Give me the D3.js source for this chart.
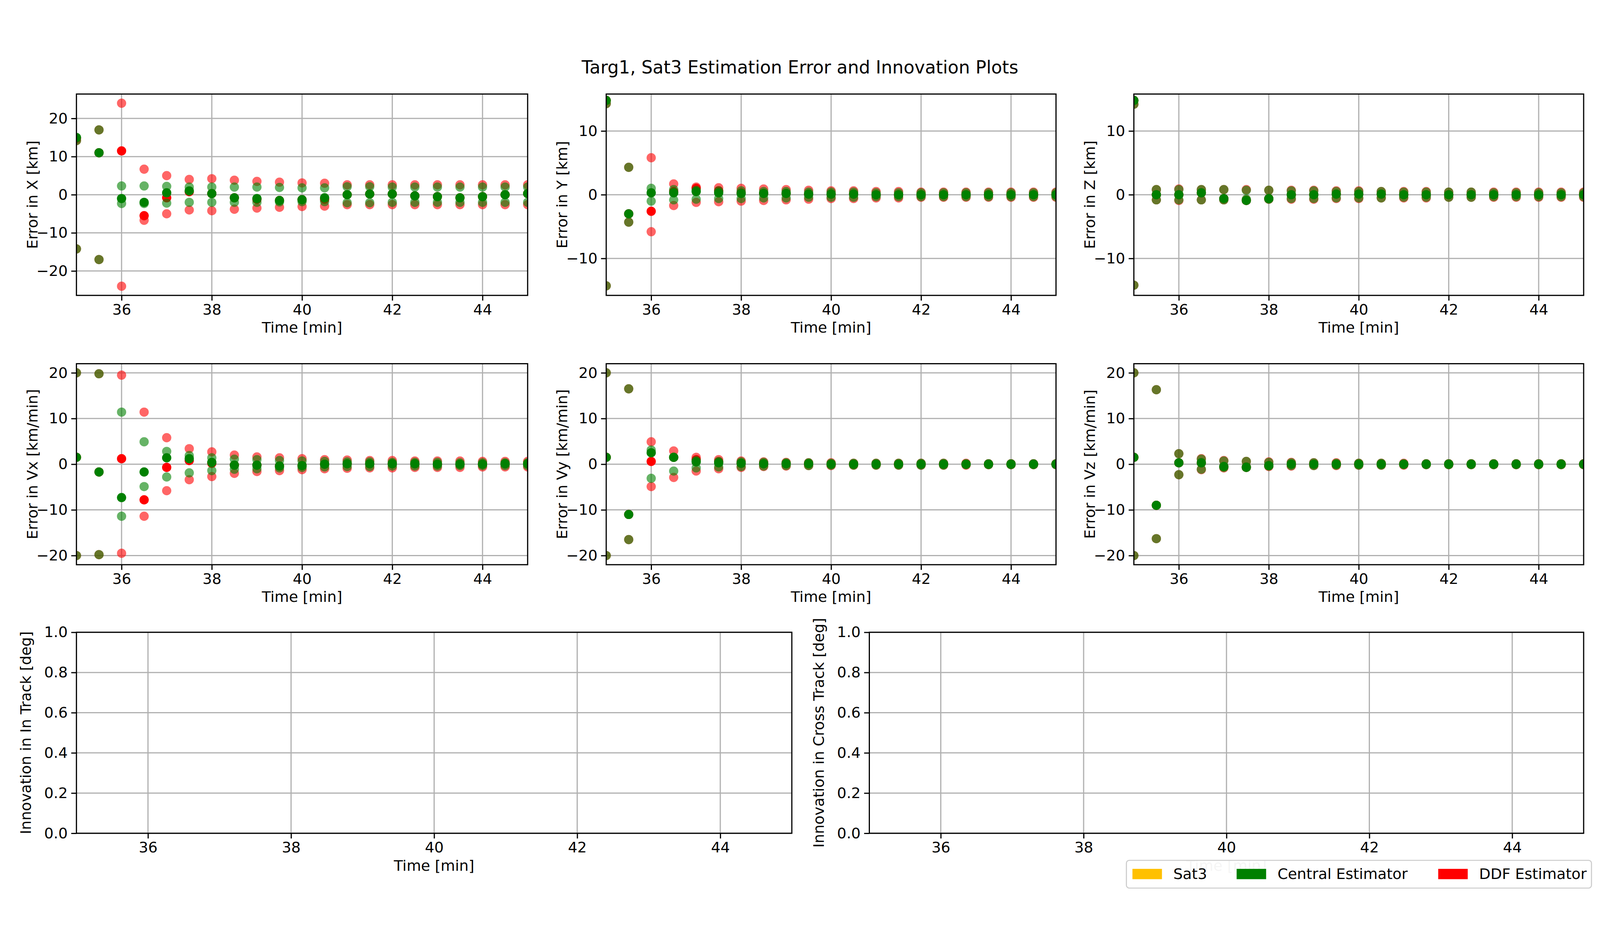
<!DOCTYPE html><html><head><meta charset="utf-8"><script src="https://cdn.jsdelivr.net/npm/d3@7"></script>
<style>html,body{margin:0;padding:0;background:#fff;overflow:hidden;width:100vw;height:100vh}svg{display:block}text{font-family:"DejaVu Sans";}</style></head><body><svg id="c" viewBox="0 0 4500 2400" preserveAspectRatio="xMidYMid meet" style="width:100vw;height:100vh"></svg><script>
const times=[35,35.5,36,36.5,37,37.5,38,38.5,39,39.5,40,40.5,41,41.5,42,42.5,43,43.5,44,44.5,45];
const xTicks=[36,38,40,42,44];
// per panel: central error, central bound, ddf error, ddf bound
const xC=[15,11,-1,-2,0.5,1,0.3,-0.8,-1,-1.5,-1.3,-0.8,0,0.2,0.2,-0.3,-0.5,-0.8,-0.5,0,0.3];
const xCB=[14.2,17,2.3,2.3,2.2,2,2,2,2,1.9,1.8,1.8,2.1,2.1,2,2,2,2,2,2,2];
const xD=[14.8,11,11.5,-5.5,-0.8,0.8,0.3,-0.8,-1.2,-1.5,-1.3,-1.2,0,0.2,0.2,-0.3,-0.5,-0.8,-0.5,0,0.3];
const xDB=[14.2,17,24,6.7,5,4,4.2,3.8,3.5,3.3,3.1,3,2.6,2.6,2.6,2.6,2.6,2.6,2.6,2.6,2.6];
const yC=[14.8,-3,0.3,0.3,0.5,0.3,0.2,0.2,0.2,0.1,0.1,0.1,0,0,0,0,0,0,0,0,0];
const yCB=[14.3,4.3,1,0.8,0.7,0.6,0.6,0.5,0.5,0.4,0.4,0.4,0.3,0.3,0.3,0.3,0.3,0.3,0.3,0.3,0.3];
const yD=[14.8,-3,-2.6,0.5,1,0.6,0.3,0.2,0.2,0.1,0.1,0.1,0,0,0,0,0,0,0,0,0];
const yDB=[14.3,4.3,5.8,1.7,1.2,1.1,1,0.9,0.8,0.7,0.6,0.6,0.5,0.5,0.4,0.4,0.4,0.4,0.4,0.4,0.4];
const zC=[14.8,0,0,0.3,-0.6,-0.9,-0.6,0,0,0.1,0.1,0.1,0,0,0,0,0,0,0,0,0];
const zCB=[14.2,0.8,0.8,0.8,0.8,0.7,0.7,0.6,0.6,0.5,0.5,0.5,0.4,0.4,0.4,0.4,0.3,0.3,0.3,0.3,0.3];
const zD=[14.8,0,0,0.3,-0.6,-0.9,-0.6,0,0,0.1,0.1,0.1,0,0,0,0,0,0,0,0,0];
const zDB=[14.2,0.8,0.9,0.8,0.8,0.8,0.7,0.7,0.7,0.6,0.6,0.5,0.5,0.5,0.4,0.4,0.4,0.4,0.4,0.4,0.4];
const vxC=[1.5,-1.7,-7.3,-1.7,1.4,1.2,0.4,-0.2,-0.2,-0.4,-0.3,0,0.1,0.1,0.1,0.1,0,0,0,0.1,0.1];
const vxCB=[20,19.8,11.4,4.9,2.8,1.9,1.4,1.1,1,0.8,0.7,0.6,0.5,0.5,0.4,0.4,0.4,0.3,0.3,0.3,0.3];
const vxD=[1.5,-1.7,1.2,-7.8,-0.7,0.8,0.2,-0.2,-0.2,-0.4,-0.3,0,0.1,0.1,0.1,0.1,0,0,0,0.1,0.1];
const vxDB=[20,19.8,19.5,11.4,5.8,3.4,2.7,2,1.6,1.4,1.2,1,0.9,0.8,0.8,0.7,0.7,0.7,0.6,0.6,0.6];
const vyC=[1.5,-11,2.5,1.5,0.5,0.3,0.2,0.1,0.1,0.1,0,0,0,0,0,0,0,0,0,0,0];
const vyCB=[20,16.5,3.1,1.5,0.8,0.6,0.5,0.4,0.3,0.3,0.2,0.2,0.2,0.2,0.2,0.2,0.1,0.1,0.1,0.1,0.1];
const vyD=[1.5,-11,0.6,1.5,1,0.5,0.2,0.1,0.1,0.1,0,0,0,0,0,0,0,0,0,0,0];
const vyDB=[20,16.5,4.9,2.9,1.5,1,0.7,0.5,0.4,0.3,0.3,0.2,0.2,0.2,0.2,0.2,0.2,0.1,0.1,0.1,0.1];
const vzC=[1.5,-9,0.3,0.3,-0.5,-0.7,-0.3,0,0,0,0,0,0,0,0,0,0,0,0,0,0];
const vzCB=[20,16.3,2.3,1.1,0.7,0.6,0.4,0.3,0.3,0.2,0.2,0.2,0.1,0.1,0.1,0.1,0.1,0.1,0.1,0.1,0.1];
const vzD=[1.5,-9,0.3,0.3,-0.5,-0.7,-0.3,0,0,0,0,0,0,0,0,0,0,0,0,0,0];
const vzDB=[20,16.3,2.3,1.2,0.8,0.6,0.5,0.4,0.3,0.3,0.2,0.2,0.2,0.1,0.1,0.1,0.1,0.1,0.1,0.1,0.1];
const panels=[
 {lab:"Error in X [km]",c:xC,cb:xCB,d:xD,db:xDB,dom:[-26.4,26.4],ticks:[-20,-10,0,10,20],box:[215,146,1484,712]},
 {lab:"Error in Y [km]",c:yC,cb:yCB,d:yD,db:yDB,dom:[-15.8,15.8],ticks:[-10,0,10],box:[1705,146,2970,712]},
 {lab:"Error in Z [km]",c:zC,cb:zCB,d:zD,db:zDB,dom:[-15.8,15.8],ticks:[-10,0,10],box:[3189,146,4454,712]},
 {lab:"Error in Vx [km/min]",c:vxC,cb:vxCB,d:vxD,db:vxDB,dom:[-22,22],ticks:[-20,-10,0,10,20],box:[215,904,1484,1469]},
 {lab:"Error in Vy [km/min]",c:vyC,cb:vyCB,d:vyD,db:vyDB,dom:[-22,22],ticks:[-20,-10,0,10,20],box:[1705,904,2970,1469]},
 {lab:"Error in Vz [km/min]",c:vzC,cb:vzCB,d:vzD,db:vzDB,dom:[-22,22],ticks:[-20,-10,0,10,20],box:[3189,904,4454,1469]},
 {lab:"Innovation in In Track [deg]",dom:[0,1],ticks:[0,0.2,0.4,0.6,0.8,1.0],box:[215,1659,2227,2224],fmt:d3.format(".1f")},
 {lab:"Innovation in Cross Track [deg]",dom:[0,1],ticks:[0,0.2,0.4,0.6,0.8,1.0],box:[2445,1659,4454,2224],fmt:d3.format(".1f"),noX:true}
];
const svg=d3.select("#c");const FS=41.7;
svg.append("text").attr("x",2250).attr("y",88).attr("text-anchor","middle").attr("font-size",50).text("Targ1, Sat3 Estimation Error and Innovation Plots");
panels.forEach(p=>{
 const [x0,y0,x1,y1]=p.box;
 const x=d3.scaleLinear().domain([35,45]).range([x0,x1]);
 const y=d3.scaleLinear().domain(p.dom).range([y1,y0]);
 const g=svg.append("g");
 const clip="cl"+x0+"_"+y0;
 g.append("clipPath").attr("id",clip).append("rect").attr("x",x0).attr("y",y0).attr("width",x1-x0).attr("height",y1-y0);
 g.selectAll(".gx").data(xTicks).join("line").attr("x1",d=>x(d)).attr("x2",d=>x(d)).attr("y1",y0).attr("y2",y1).attr("stroke","#b0b0b0").attr("stroke-width",3.3);
 g.selectAll(".gy").data(p.ticks).join("line").attr("y1",d=>y(d)).attr("y2",d=>y(d)).attr("x1",x0).attr("x2",x1).attr("stroke","#b0b0b0").attr("stroke-width",3.3);
 if(p.c){
  const m=g.append("g").attr("clip-path",`url(#${clip})`);
  const dot=(vals,col,op)=>m.append("g").selectAll("circle").data(vals).join("circle").attr("cx",(d,i)=>x(times[i])).attr("cy",d=>y(d)).attr("r",13).attr("fill",col).attr("fill-opacity",op);
  dot(p.d,"red",1);
  dot(p.db,"red",0.6);dot(p.db.map(v=>-v),"red",0.6);
  dot(p.cb,"green",0.6);dot(p.cb.map(v=>-v),"green",0.6);
  dot(p.c,"green",1);
 }
 g.append("g").attr("transform",`translate(0,${y1})`).call(d3.axisBottom(x).tickValues(xTicks).tickSize(14.6).tickPadding(10).tickFormat(d3.format("d"))).call(a=>{a.select(".domain").remove();a.selectAll("line").attr("stroke-width",3.3);a.selectAll("text").attr("font-size",FS).attr("font-family","DejaVu Sans");});
 g.append("g").attr("transform",`translate(${x0},0)`).call(d3.axisLeft(y).tickValues(p.ticks).tickSize(14.6).tickPadding(10).tickFormat(p.fmt||(d=>d<0?"\u2212"+(-d):d))).call(a=>{a.select(".domain").remove();a.selectAll("line").attr("stroke-width",3.3);a.selectAll("text").attr("font-size",FS).attr("font-family","DejaVu Sans");});
 g.append("rect").attr("x",x0).attr("y",y0).attr("width",x1-x0).attr("height",y1-y0).attr("fill","none").attr("stroke","#000").attr("stroke-width",3.3);
 g.append("text").attr("x",(x0+x1)/2).attr("y",y1+105).attr("text-anchor","middle").attr("font-size",FS).attr("fill",p.noX?"#ccc":"#000").text("Time [min]");
 g.append("text").attr("transform",`translate(${x0-(p.fmt?128:110)},${(y0+y1)/2}) rotate(-90)`).attr("text-anchor","middle").attr("font-size",FS).text(p.lab);
});
// legend
const legItems=["Sat3","Central Estimator","DDF Estimator"];const legCols=["#FFC000","green","red"];
const lg=svg.append("g");
lg.append("rect").attr("x",3168).attr("y",2300).attr("width",1308).attr("height",78).attr("fill","#fff").attr("fill-opacity",0.8).attr("stroke","#ccc").attr("stroke-width",3).attr("rx",8);
const lx=[3185,3478,4045];
legItems.forEach((t,i)=>{lg.append("rect").attr("x",lx[i]).attr("y",2324).attr("width",83).attr("height",29).attr("fill",legCols[i]);
 lg.append("text").attr("x",lx[i]+115).attr("y",2353).attr("font-size",FS).text(t);});
</script></body></html>
